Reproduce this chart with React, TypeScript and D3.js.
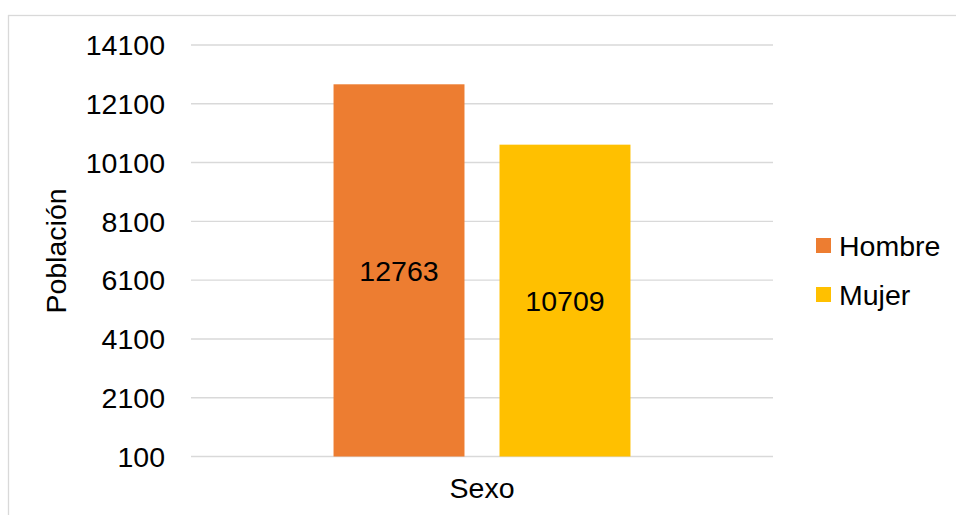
import React, { useRef, useEffect } from 'react';
import * as d3 from 'd3';

const categories = ['Sexo'];
const seriesNames = ['Hombre', 'Mujer'];
const hombreValues = [12763];
const mujerValues = [10709];
const yTicks = [100, 2100, 4100, 6100, 8100, 10100, 12100, 14100];
const seriesColors = ['#ED7D31', '#FFC000'];

export default function App() {
  const svgRef = useRef<SVGSVGElement | null>(null);

  useEffect(() => {
    const svg = d3.select(svgRef.current);
    svg.selectAll('*').remove();

    const font = '"Liberation Sans", Arial, sans-serif';
    const fontSize = '28.5px';
    const left = 191;
    const right = 773;
    const top = 45;
    const bottom = 456.5;

    // chart border (right/bottom edges run off the page)
    svg.append('rect')
      .attr('x', 8.5).attr('y', 15.5)
      .attr('width', 1000).attr('height', 600)
      .attr('fill', '#fff')
      .attr('stroke', '#d9d9d9')
      .attr('stroke-width', 1.3);

    const y = d3.scaleLinear().domain([100, 14100]).range([bottom, top]);

    const x0 = d3.scaleBand<string>()
      .domain(categories)
      .range([left, right])
      .paddingOuter(0.48);

    const x1 = d3.scaleBand<string>()
      .domain(seriesNames)
      .range([0, x0.bandwidth()])
      .paddingInner(0.211)
      .paddingOuter(0);

    const color = d3.scaleOrdinal<string, string>().domain(seriesNames).range(seriesColors);

    // grid
    svg.append('g')
      .selectAll('line')
      .data(yTicks)
      .enter().append('line')
      .attr('x1', left).attr('x2', right)
      .attr('y1', d => y(d)).attr('y2', d => y(d))
      .attr('stroke', '#d9d9d9')
      .attr('stroke-width', 1.4);

    // y tick labels
    svg.append('g')
      .selectAll('text')
      .data(yTicks)
      .enter().append('text')
      .attr('x', 165)
      .attr('y', d => y(d))
      .attr('dy', '0.36em')
      .attr('text-anchor', 'end')
      .style('font-family', font)
      .style('font-size', fontSize)
      .style('fill', '#000')
      .text(d => d);

    const rows = categories.map((c, i) => ({
      name: c,
      values: [
        { key: seriesNames[0], value: hombreValues[i] },
        { key: seriesNames[1], value: mujerValues[i] },
      ],
    }));

    const group = svg.append('g')
      .selectAll('g')
      .data(rows)
      .enter().append('g')
      .attr('transform', d => `translate(${x0(d.name)},0)`);

    group.selectAll('rect')
      .data(d => d.values)
      .enter().append('rect')
      .attr('x', d => x1(d.key)!)
      .attr('y', d => y(d.value))
      .attr('width', x1.bandwidth())
      .attr('height', d => y(100) - y(d.value))
      .attr('fill', d => color(d.key));

    group.selectAll('text')
      .data(d => d.values)
      .enter().append('text')
      .attr('x', d => x1(d.key)! + x1.bandwidth() / 2)
      .attr('y', d => (y(d.value) + y(100)) / 2)
      .attr('dy', '0.36em')
      .attr('text-anchor', 'middle')
      .style('font-family', font)
      .style('font-size', fontSize)
      .style('fill', '#000')
      .text(d => d.value);

    // x axis label (category)
    svg.append('text')
      .attr('x', x0(categories[0])! + x0.bandwidth() / 2)
      .attr('y', 498)
      .attr('text-anchor', 'middle')
      .style('font-family', font)
      .style('font-size', fontSize)
      .style('fill', '#000')
      .text(categories[0]);

    // y axis title
    svg.append('text')
      .attr('transform', 'translate(66,251) rotate(-90)')
      .attr('text-anchor', 'middle')
      .style('font-family', font)
      .style('font-size', fontSize)
      .style('fill', '#000')
      .text('Población');

    // legend
    const legend = svg.append('g')
      .selectAll('g')
      .data(seriesNames)
      .enter().append('g')
      .attr('transform', (d, i) => `translate(816,${245.5 + i * 49})`);

    legend.append('rect')
      .attr('x', 0).attr('y', -7.5)
      .attr('width', 15).attr('height', 15)
      .attr('fill', d => color(d));

    legend.append('text')
      .attr('x', 23)
      .attr('y', 0)
      .attr('dy', '0.36em')
      .style('font-family', font)
      .style('font-size', fontSize)
      .style('fill', '#000')
      .text(d => d);
  }, []);

  return (
    <svg
      ref={svgRef}
      width={956}
      height={515}
      style={{ position: 'absolute', left: 0, top: 0, background: '#fff' }}
    />
  );
}
